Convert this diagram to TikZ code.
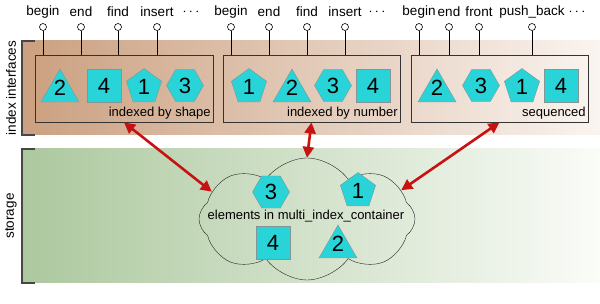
\documentclass[tikz,border=0pt]{standalone}
\usepackage{fontspec}
\setmainfont{Liberation Sans}
\usepackage{tikz}
\usetikzlibrary{
  positioning,
  arrows.meta,
  shapes.geometric,
  shapes.symbols
}
\definecolor{ShapeCyan}{RGB}{41,212,216}
\definecolor{ShapeEdge}{RGB}{130,150,150}
\definecolor{BandBrown}{RGB}{203,160,128}
\definecolor{BandBrownR}{RGB}{250,244,240}
\definecolor{BandGreen}{RGB}{172,200,158}
\definecolor{BandGreenR}{RGB}{250,252,248}
\definecolor{ArrRed}{RGB}{200,18,18}
\definecolor{Bracket}{RGB}{70,70,70}

\begin{document}
\begin{tikzpicture}[
  x=1pt,y=-1pt,
  idxbox/.style={draw=black!80,thick,minimum width=177pt,minimum height=67pt,inner sep=0pt},
  boxcap/.style={font=\fontsize{13}{15}\selectfont,inner sep=2.5pt,anchor=south east},
  pinhead/.style={circle,draw=black,fill=white,semithick,minimum size=7pt,inner sep=0pt},
  pinlab/.style={font=\fontsize{13.5}{15}\selectfont,inner sep=0pt},
  num/.style={fill=ShapeCyan,draw=ShapeEdge,thin,inner sep=0pt,
    font=\fontsize{22}{22}\selectfont},
  tri/.style={num,regular polygon,regular polygon sides=3,minimum size=44pt,
    text height=10pt,text depth=0pt},
  sqr/.style={num,rectangle,minimum width=34pt,minimum height=33pt},
  pent/.style={num,regular polygon,regular polygon sides=5,minimum size=37pt},
  hexa/.style={num,regular polygon,regular polygon sides=6,minimum size=37pt},
  rarr/.style={{Triangle[length=11pt,width=11pt]}-{Triangle[length=11pt,width=11pt]},
    line width=2.6pt,ArrRed},
  bracket/.style={draw=Bracket,line width=1.2pt},
]
\useasboundingbox (0,0) rectangle (600,304);
% —— bands ——
\shade[left color=BandBrown,right color=BandBrownR] (22,41) rectangle (600,135);
\shade[left color=BandGreen,right color=BandGreenR] (22,149) rectangle (600,283);
\draw[bracket] (35,41) -| (22,135) -- (35,135);
\draw[bracket] (35,149) -| (22,283) -- (35,283);
\node[pinlab,rotate=90] (IdxLab) at (11,88) {index interfaces};
\node[pinlab,rotate=90] (StoLab) at (11,216) {storage};

% —— index boxes ——
\node[idxbox,minimum width=178pt] (I1) at (124,88.5) {};
\node[idxbox] (I2) at (311.5,88.5) {};
\node[idxbox] (I3) at (499.5,88.5) {};
\node[boxcap] (C1) at (I1.south east) {indexed by shape};
\node[boxcap] (C2) at (I2.south east) {indexed by number};
\node[boxcap] (C3) at (I3.south east) {sequenced};

\node[tri]  (I1a) at (60,91)   {2};
\node[sqr]  (I1b) at (104,85.5){4};
\node[pent] (I1c) at (144,87)  {1};
\node[hexa] (I1d) at (185,85.5){3};

\node[pent] (I2a) at (249,87)  {1};
\node[tri]  (I2b) at (292,91)  {2};
\node[hexa] (I2c) at (333,85.5){3};
\node[sqr]  (I2d) at (373,85.5){4};

\node[tri]  (I3a) at (437,91)  {2};
\node[hexa] (I3b) at (481,85.5){3};
\node[pent] (I3c) at (522,87)  {1};
\node[sqr]  (I3d) at (561,85.5){4};

% —— interface pins ——
\foreach \x/\t/\b [count=\i] in {43/begin/I1,81/end/I1,118/find/I1,157/insert/I1,
    231/begin/I2,269/end/I2,307/find/I2,345/insert/I2,
    419/begin/I3,449/end/I3,479/front/I3,532/push\_back/I3}{
  \node[pinhead] (P\i) at (\x,27) {};
  \node[pinlab] (L\i) at (\x,12) {\t};
  \draw[semithick] (P\i.south) -- (P\i.south |- \b.north);
}
\node[pinlab] (D1) at (191,12) {$\cdots$};
\node[pinlab] (D2) at (377,12) {$\cdots$};
\node[pinlab] (D3) at (577,12) {$\cdots$};

% —— storage ——
\node[cloud,draw=black!85,thin,cloud puffs=8,cloud puff arc=110,cloud ignores aspect,
  minimum width=216pt,minimum height=122pt] (Cloud) at (307,219) {};
\node[boxcap,anchor=center,inner sep=0pt] (ElLab) at (306,216) {elements in multi\_index\_container};
\node[hexa] (E3) at (271,192) {3};
\node[pent] (E1) at (358,191) {1};
\node[sqr]  (E4) at (273,243) {4};
\node[tri]  (E2) at (338,247) {2};

\draw[rarr] (I1.south) -- (Cloud.164);
\draw[rarr] (I2.south) -- (Cloud.north);
\draw[rarr] (I3.south) -- (Cloud.17);
\end{tikzpicture}
\end{document}
